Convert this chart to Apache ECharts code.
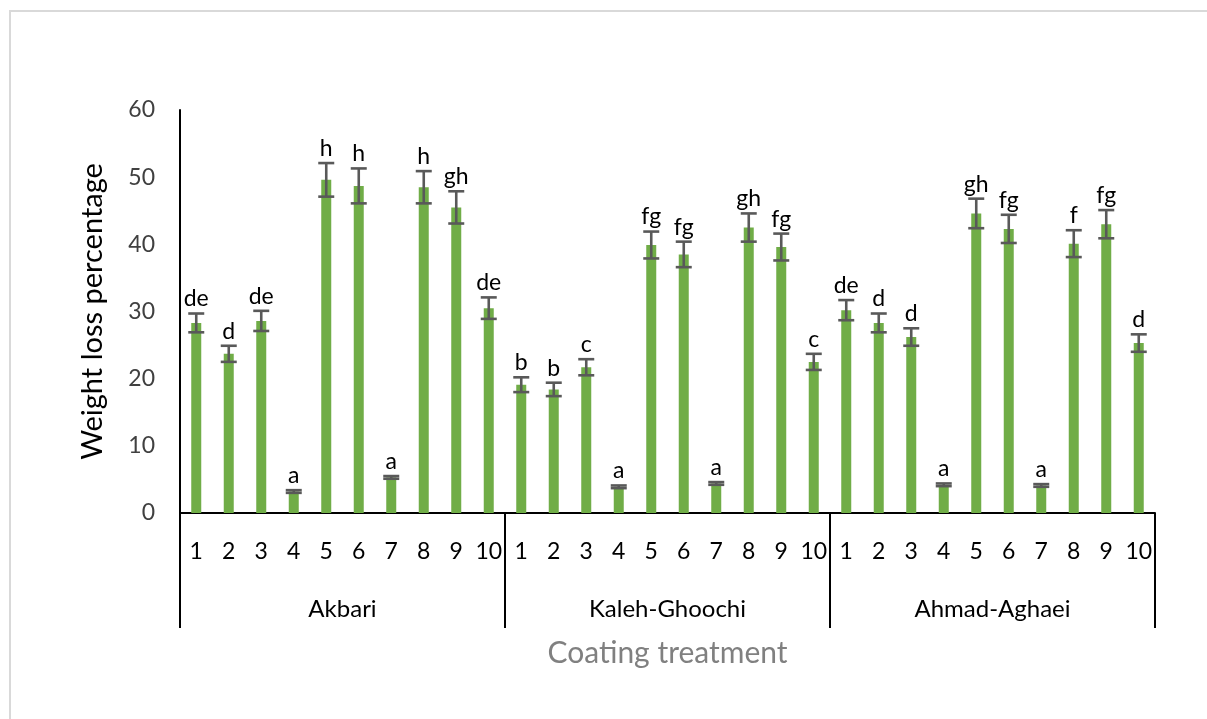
<!DOCTYPE html>
<html>
<head>
<meta charset="utf-8">
<script src="https://cdn.jsdelivr.net/npm/echarts@6/dist/echarts.min.js"></script>
<style>
html,body{margin:0;padding:0;background:#fff;}
#chart{width:1207px;height:719px;}
</style>
</head>
<body>
<div id="chart"></div>
<script>
var groups = ['Akbari', 'Kaleh-Ghoochi', 'Ahmad-Aghaei'];
var treatments = ['1','2','3','4','5','6','7','8','9','10'];
var values = [
  28.3, 23.7, 28.6, 3.2, 49.6, 48.7, 5.3, 48.5, 45.5, 30.5,
  19.1, 18.4, 21.7, 3.9, 39.9, 38.5, 4.4, 42.5, 39.6, 22.5,
  30.2, 28.3, 26.2, 4.2, 44.6, 42.3, 4.1, 40.1, 43.0, 25.3
];
var errors = [
  1.4, 1.2, 1.5, 0.2, 2.5, 2.6, 0.2, 2.4, 2.4, 1.6,
  1.1, 1.0, 1.2, 0.2, 2.0, 1.9, 0.2, 2.1, 2.0, 1.2,
  1.5, 1.4, 1.3, 0.2, 2.2, 2.1, 0.2, 2.0, 2.1, 1.3
];
var letters = [
  'de','d','de','a','h','h','a','h','gh','de',
  'b','b','c','a','fg','fg','a','gh','fg','c',
  'de','d','d','a','gh','fg','a','f','fg','d'
];
var yTicks = [0, 10, 20, 30, 40, 50, 60];

var categories = [];
groups.forEach(function(g){ treatments.forEach(function(t){ categories.push(t); }); });

var FONT = 'Lato, "Open Sans", sans-serif';

var chart = echarts.init(document.getElementById('chart'));
chart.setOption({
  animation: false,
  backgroundColor: '#ffffff',
  graphic: [{
    type: 'rect',
    shape: {x: 10, y: 11, width: 1300, height: 800},
    style: {fill: 'none', stroke: '#d9d9d9', lineWidth: 2},
    silent: true
  }],
  grid: {left: 180, right: 52, top: 110, bottom: 206, containLabel: false},
  xAxis: [{
    type: 'category',
    data: categories,
    position: 'bottom',
    axisLine: {show: true, lineStyle: {color: '#000000', width: 2}},
    axisTick: {show: false},
    axisLabel: {interval: 0, margin: 27, color: '#000000', fontSize: 23, fontFamily: FONT}
  }, {
    type: 'category',
    data: groups,
    position: 'bottom',
    axisLine: {show: false},
    axisTick: {show: true, length: 115, lineStyle: {color: '#000000', width: 2}},
    axisLabel: {interval: 0, margin: 84, color: '#000000', fontSize: 24, fontFamily: FONT},
    name: 'Coating treatment',
    nameLocation: 'middle',
    nameGap: 125,
    nameTextStyle: {color: '#808080', fontSize: 30, fontFamily: FONT}
  }],
  yAxis: {
    type: 'value',
    min: yTicks[0],
    max: yTicks[yTicks.length - 1],
    interval: 10,
    axisLine: {show: true, lineStyle: {color: '#000000', width: 2}},
    axisTick: {show: false},
    splitLine: {show: false},
    axisLabel: {color: '#404040', fontSize: 23, fontFamily: FONT, margin: 25},
    name: 'Weight loss percentage',
    nameLocation: 'middle',
    nameGap: 73,
    nameTextStyle: {color: '#000000', fontSize: 29, fontFamily: FONT}
  },
  series: [{
    type: 'bar',
    xAxisIndex: 0,
    data: values,
    barWidth: 10,
    itemStyle: {color: '#70AD47'}
  }, {
    type: 'custom',
    xAxisIndex: 0,
    data: values.map(function(v, i){ return [i, v, errors[i]]; }),
    z: 10,
    renderItem: function(params, api) {
      var i = api.value(0), v = api.value(1), e = api.value(2);
      var lbl = letters[params.dataIndex];
      var top = api.coord([i, v + e]);
      var bot = api.coord([i, v - e]);
      var hw = 8;
      var stroke = {stroke: '#595959', lineWidth: 2.6};
      return {
        type: 'group',
        children: [
          {type: 'line', shape: {x1: top[0], y1: top[1], x2: bot[0], y2: bot[1]}, style: stroke},
          {type: 'line', shape: {x1: top[0]-hw, y1: top[1], x2: top[0]+hw, y2: top[1]}, style: stroke},
          {type: 'line', shape: {x1: bot[0]-hw, y1: bot[1], x2: bot[0]+hw, y2: bot[1]}, style: stroke},
          {type: 'text', x: top[0], y: top[1] - 3, style: {
            text: lbl, textAlign: 'center', textVerticalAlign: 'bottom',
            fill: '#000000', fontSize: 23, fontFamily: FONT
          }}
        ]
      };
    }
  }]
});
</script>
</body>
</html>
